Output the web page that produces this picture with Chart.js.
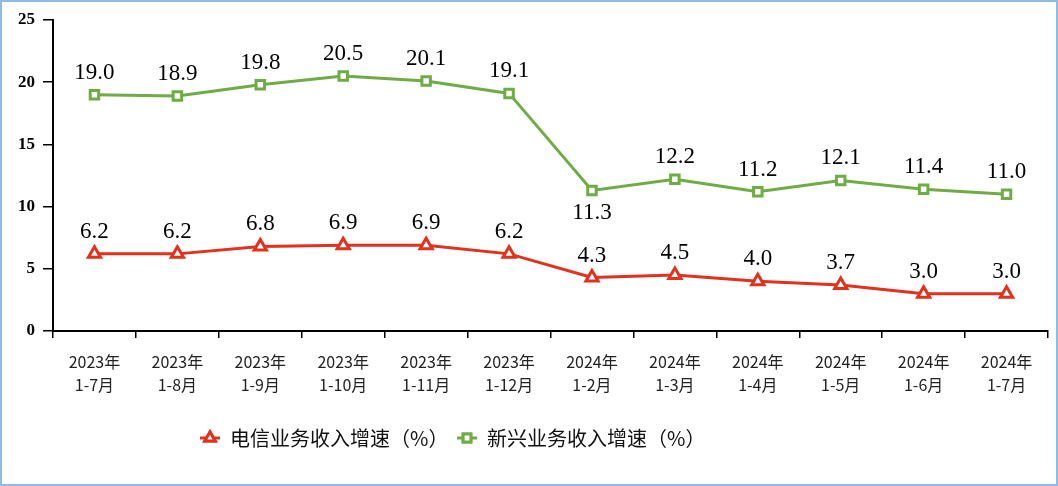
<!DOCTYPE html>
<html><head><meta charset="utf-8">
<script src="https://cdn.jsdelivr.net/npm/chart.js@4/dist/chart.umd.min.js"></script>
<style>html,body{margin:0;padding:0;background:#fff}#wrap{width:1058px;height:486px;position:relative}</style>
</head><body><div id="wrap"><canvas id="c" width="1058" height="486"></canvas></div>
<script>
const categories = [
  ['2023年','1-7月'],['2023年','1-8月'],['2023年','1-9月'],['2023年','1-10月'],['2023年','1-11月'],['2023年','1-12月'],
  ['2024年','1-2月'],['2024年','1-3月'],['2024年','1-4月'],['2024年','1-5月'],['2024年','1-6月'],['2024年','1-7月']
];
const telecomGrowth = [6.2, 6.2, 6.8, 6.9, 6.9, 6.2, 4.3, 4.5, 4.0, 3.7, 3.0, 3.0];
const emergingGrowth = [19.0, 18.9, 19.8, 20.5, 20.1, 19.1, 11.3, 12.2, 11.2, 12.1, 11.4, 11.0];
const seriesNames = ['电信业务收入增速（%）', '新兴业务收入增速（%）'];
const yTicks = [0, 5, 10, 15, 20, 25];

const RED = '#e2311d', GREEN = '#6fac46';
const CJK = '"Noto Sans CJK SC", sans-serif';
const SERIF = '"Liberation Serif", "Times New Roman", serif';

const overlay = {
  id: 'overlay',
  afterDatasetsDraw(chart) {
    const ctx = chart.ctx;
    ctx.save();
    ctx.font = '23px ' + SERIF;
    ctx.fillStyle = '#000';
    ctx.textAlign = 'center';
    ctx.textBaseline = 'alphabetic';
    chart.data.datasets.forEach((ds, di) => {
      const meta = chart.getDatasetMeta(di);
      meta.data.forEach((pt, i) => {
        const v = ds.data[i];
        let y = pt.y - 16;
        if (di === 1 && i === 6) y = pt.y + 29;
        ctx.fillText(v.toFixed(1), pt.x, y);
      });
    });
    // legend
    const items = [
      {x: 200, color: RED, style: 'triangle', r: 6, text: seriesNames[0]},
      {x: 457, color: GREEN, style: 'rect', r: 5.5, text: seriesNames[1]}
    ];
    const ly = 438;
    items.forEach(it => {
      ctx.strokeStyle = it.color; ctx.lineWidth = 3;
      ctx.beginPath(); ctx.moveTo(it.x, ly); ctx.lineTo(it.x + 20, ly); ctx.stroke();
      ctx.fillStyle = '#fff';
      Chart.helpers.drawPoint(ctx, {pointStyle: it.style, radius: it.r, borderWidth: 3}, it.x + 10, ly);
      ctx.fill(); ctx.stroke();
      ctx.fillStyle = '#111';
      ctx.font = '20px ' + CJK;
      ctx.textAlign = 'left'; ctx.textBaseline = 'middle';
      ctx.fillText(it.text, it.x + 30, ly);
    });
    ctx.restore();
  },
  afterDraw(chart) {
    const ctx = chart.ctx;
    ctx.save();
    ctx.strokeStyle = '#8fbbe8';
    ctx.lineWidth = 2;
    ctx.strokeRect(1, 1, chart.width - 2, chart.height - 2);
    ctx.restore();
  }
};

new Chart(document.getElementById('c'), {
  type: 'line',
  data: {
    labels: categories,
    datasets: [
      {label: seriesNames[0], data: telecomGrowth, borderColor: RED, backgroundColor: '#fff', borderWidth: 3,
       pointStyle: 'triangle', pointRadius: 7, pointBorderWidth: 3, pointBorderColor: RED, pointBackgroundColor: '#fff', tension: 0},
      {label: seriesNames[1], data: emergingGrowth, borderColor: GREEN, backgroundColor: '#fff', borderWidth: 3,
       pointStyle: 'rect', pointRadius: 6, pointBorderWidth: 3, pointBorderColor: GREEN, pointBackgroundColor: '#fff', tension: 0}
    ]
  },
  options: {
    responsive: false,
    animation: false,
    layout: {padding: {left: 0, right: 9, top: 20, bottom: 0}},
    plugins: {legend: {display: false}, tooltip: {enabled: false}},
    scales: {
      x: {
        offset: true,
        grid: {display: true, drawOnChartArea: false, drawTicks: true, tickLength: 7, color: '#000', lineWidth: 1.5, offset: true},
        border: {display: true, color: '#000', width: 2},
        ticks: {color: '#222', font: {family: CJK, size: 16, lineHeight: 1.45}, padding: 12, maxRotation: 0, autoSkip: false},
        afterFit(s) { s.height = 155; }
      },
      y: {
        min: 0, max: 25,
        afterBuildTicks(s) { s.ticks = yTicks.map(v => ({value: v})); },
        grid: {display: true, drawOnChartArea: false, drawTicks: true, tickLength: 10, color: '#000', lineWidth: 1.5},
        border: {display: true, color: '#000', width: 2},
        ticks: {color: '#000', font: {family: SERIF, size: 17, weight: 'bold'}, padding: 8},
        afterFit(s) { s.width = 53; }
      }
    }
  },
  plugins: [overlay]
});
</script></body></html>
